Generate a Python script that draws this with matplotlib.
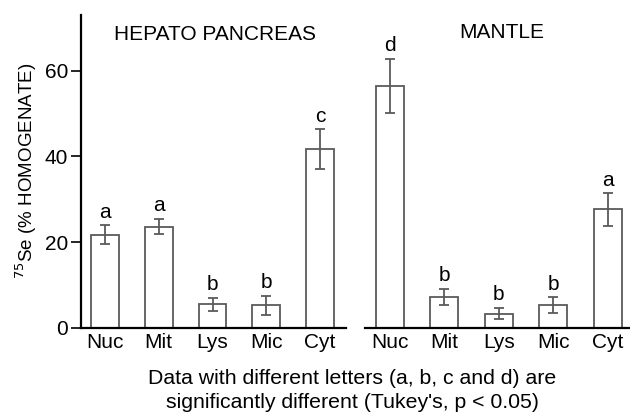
import matplotlib
matplotlib.use("Agg")
import matplotlib.pyplot as plt

plt.rcParams['font.family'] = ['Liberation Sans', 'DejaVu Sans']

fractions = ["Nuc", "Mit", "Lys", "Mic", "Cyt"]

hepato_mean = [21.7, 23.6, 5.5, 5.2, 41.7]
hepato_err = [2.2, 1.8, 1.5, 2.2, 4.6]
hepato_letters = ["a", "a", "b", "b", "c"]

mantle_mean = [56.4, 7.2, 3.3, 5.3, 27.6]
mantle_err = [6.3, 1.9, 1.3, 1.8, 3.8]
mantle_letters = ["d", "b", "b", "b", "a"]

fig = plt.figure(figsize=(6.3, 4.15), dpi=100)
ax1 = fig.add_axes([0.128, 0.2104, 0.421, 0.7535])
ax2 = fig.add_axes([0.579, 0.2104, 0.421, 0.7535], sharey=ax1)

edge = "#5a5a5a"
fs = 15


def draw(ax, mean, err, letters):
    x = list(range(len(fractions)))
    ax.bar(x, mean, width=0.52, facecolor="white", edgecolor=edge, linewidth=1.3)
    ax.errorbar(x, mean, yerr=err, fmt="none", ecolor=edge, elinewidth=1.3,
                capsize=3.6, capthick=1.3)
    for xi, m, e, l in zip(x, mean, err, letters):
        ax.annotate(l, (xi, m + e), xytext=(0, 5.5), textcoords="offset points",
                    ha="center", va="baseline", fontsize=fs)
    ax.set_xticks(x)
    ax.set_xticklabels(fractions, fontsize=fs)
    ax.tick_params(axis="x", length=0, pad=4)
    for s in ["top", "right"]:
        ax.spines[s].set_visible(False)
    ax.spines["bottom"].set_linewidth(1.6)
    ax.spines["left"].set_linewidth(1.6)


draw(ax1, hepato_mean, hepato_err, hepato_letters)
draw(ax2, mantle_mean, mantle_err, mantle_letters)

ax1.set_xlim(-0.452, 4.48)
ax2.set_xlim(-0.46, 4.41)
ax1.set_ylim(0, 73)
ax1.set_yticks([0, 20, 40, 60])
ax1.tick_params(axis="y", labelsize=fs, length=7, width=1.2, pad=2)
ax1.set_ylabel(r"$^{75}$Se (% HOMOGENATE)", fontsize=13.5, labelpad=4)

ax2.spines["left"].set_visible(False)
ax2.tick_params(axis="y", left=False, labelleft=False)

fig.text(215 / 630, 1 - 34 / 415, "HEPATO PANCREAS", ha="center", va="center", fontsize=fs)
fig.text(502 / 630, 1 - 33 / 415, "MANTLE", ha="center", va="center", fontsize=fs)

fig.text(352 / 630, 1 - 378 / 415, "Data with different letters (a, b, c and d) are",
         ha="center", va="center", fontsize=15.3)
fig.text(352 / 630, 1 - 402 / 415, "significantly different (Tukey's, p < 0.05)",
         ha="center", va="center", fontsize=15.3)

fig.savefig("out.png", dpi=100)
